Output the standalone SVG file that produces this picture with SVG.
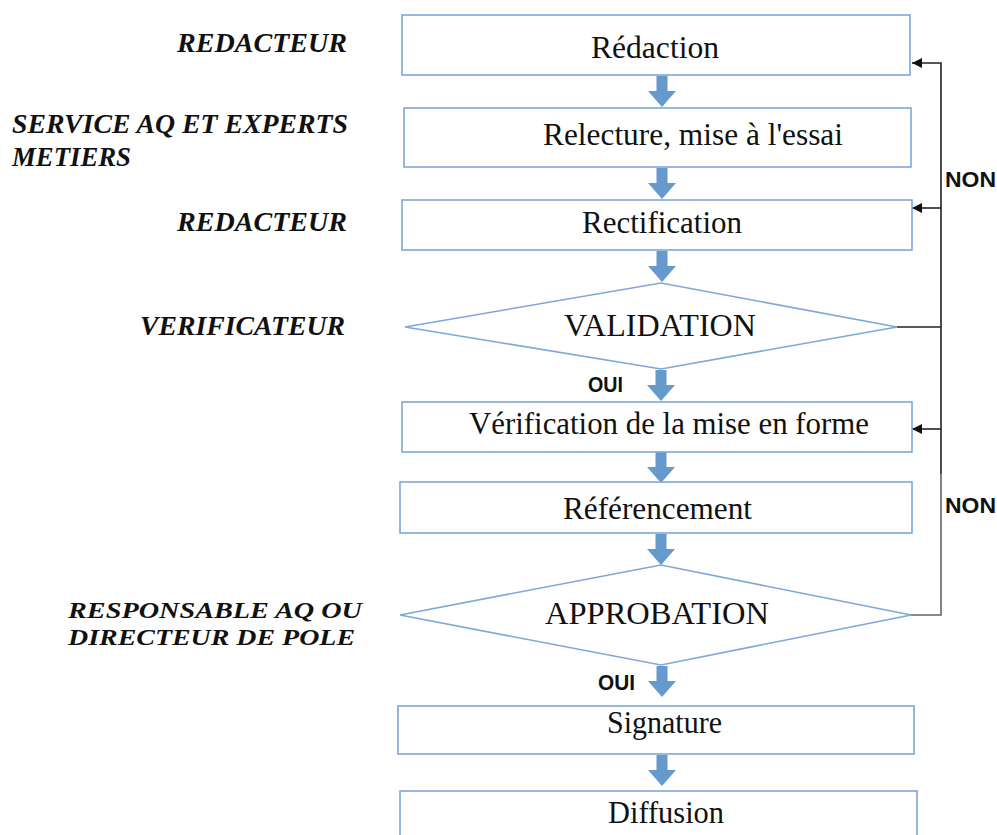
<svg xmlns="http://www.w3.org/2000/svg" width="997" height="835" viewBox="0 0 997 835">
<defs>
<style>
.box{fill:#ffffff;stroke:#7EA7DA;stroke-width:1.6}
.dia{fill:#ffffff;stroke:#7EA7DA;stroke-width:1.6}
.t{font-family:"Liberation Serif","Times New Roman",serif;font-size:31px;fill:#111}
.role{font-family:"Liberation Serif","Times New Roman",serif;font-size:27px;font-weight:bold;font-style:italic;fill:#111}
.role2{font-size:24px}
.lbl{font-family:"Liberation Sans",Arial,sans-serif;font-size:22px;font-weight:bold;fill:#111}
.flow{fill:#6699CC}
.ln{fill:none;stroke:#222;stroke-width:1.6}
.ln2{fill:none;stroke:#666;stroke-width:1.6}
</style>
<path id="barrow" d="M-5.5,0 H5.5 V15 H14 L0,31 L-14,15 H-5.5 Z"/>
<marker id="ah" viewBox="0 0 10 10" refX="10" refY="5" markerWidth="10" markerHeight="10" markerUnits="userSpaceOnUse" orient="auto">
<path d="M0,0 L10,5 L0,10 Z" fill="#111"/>
</marker>
</defs>
<rect width="997" height="835" fill="#ffffff"/>

<g id="roles">
<text class="role" x="177" y="52" textLength="170" lengthAdjust="spacingAndGlyphs">REDACTEUR</text>
<text class="role" x="12" y="133" textLength="336" lengthAdjust="spacingAndGlyphs">SERVICE AQ ET EXPERTS</text>
<text class="role" x="12" y="166" textLength="119" lengthAdjust="spacingAndGlyphs">METIERS</text>
<text class="role" x="177" y="231" textLength="170" lengthAdjust="spacingAndGlyphs">REDACTEUR</text>
<text class="role" x="140" y="335" textLength="205" lengthAdjust="spacingAndGlyphs">VERIFICATEUR</text>
<text class="role role2" x="68" y="618" textLength="294" lengthAdjust="spacingAndGlyphs">RESPONSABLE AQ OU</text>
<text class="role role2" x="68" y="645" textLength="287" lengthAdjust="spacingAndGlyphs">DIRECTEUR DE POLE</text>
</g>

<g id="connectors">
<use href="#barrow" class="flow" transform="translate(662,76)"/>
<use href="#barrow" class="flow" transform="translate(662,168)"/>
<use href="#barrow" class="flow" transform="translate(662,251)"/>
<use href="#barrow" class="flow" transform="translate(661,370)"/>
<use href="#barrow" class="flow" transform="translate(661,452)"/>
<use href="#barrow" class="flow" transform="translate(661,534)"/>
<use href="#barrow" class="flow" transform="translate(662,666)"/>
<use href="#barrow" class="flow" transform="translate(662,755)"/>
<path class="ln" d="M897,327 H941"/>
<path class="ln" d="M941,474 V63 H912" marker-end="url(#ah)"/>
<path class="ln" d="M941,208 H912" marker-end="url(#ah)"/>
<path class="ln" d="M941,429 H912" marker-end="url(#ah)"/>
<path class="ln2" d="M911,615 H941 V474"/>
<text class="lbl" x="945" y="187" textLength="51" lengthAdjust="spacingAndGlyphs">NON</text>
<text class="lbl" x="945" y="513" textLength="51" lengthAdjust="spacingAndGlyphs">NON</text>
<text class="lbl" x="588" y="392" textLength="35" lengthAdjust="spacingAndGlyphs">OUI</text>
<text class="lbl" x="598" y="690" textLength="37" lengthAdjust="spacingAndGlyphs">OUI</text>
</g>

<g id="redaction">
<rect class="box" x="402" y="15" width="508" height="60"/>
<text class="t" x="591" y="58" textLength="128" lengthAdjust="spacingAndGlyphs">Rédaction</text>
</g>
<g id="relecture">
<rect class="box" x="404" y="108" width="507" height="59"/>
<text class="t" x="543" y="145" textLength="300" lengthAdjust="spacingAndGlyphs">Relecture, mise à l'essai</text>
</g>
<g id="rectification">
<rect class="box" x="402" y="200" width="510" height="50"/>
<text class="t" x="582" y="233" textLength="160" lengthAdjust="spacingAndGlyphs">Rectification</text>
</g>
<g id="validation">
<polygon class="dia" points="405,327 661,283 897,327 661,369"/>
<text class="t" x="564" y="336" textLength="192" lengthAdjust="spacingAndGlyphs">VALIDATION</text>
</g>
<g id="verification">
<rect class="box" x="402" y="402" width="510" height="50"/>
<text class="t" x="469" y="434" textLength="400" lengthAdjust="spacingAndGlyphs">Vérification de la mise en forme</text>
</g>
<g id="referencement">
<rect class="box" x="400" y="482" width="512" height="51"/>
<text class="t" x="563" y="519" textLength="189" lengthAdjust="spacingAndGlyphs">Référencement</text>
</g>
<g id="approbation">
<polygon class="dia" points="400,615 661,565 911,615 661,665"/>
<text class="t" x="545" y="624" textLength="224" lengthAdjust="spacingAndGlyphs">APPROBATION</text>
</g>
<g id="signature">
<rect class="box" x="398" y="706" width="516" height="48"/>
<text class="t" x="607" y="733" textLength="115" lengthAdjust="spacingAndGlyphs">Signature</text>
</g>
<g id="diffusion">
<rect class="box" x="400" y="791" width="517" height="70"/>
<text class="t" x="608" y="823" textLength="116" lengthAdjust="spacingAndGlyphs">Diffusion</text>
</g>
</svg>
